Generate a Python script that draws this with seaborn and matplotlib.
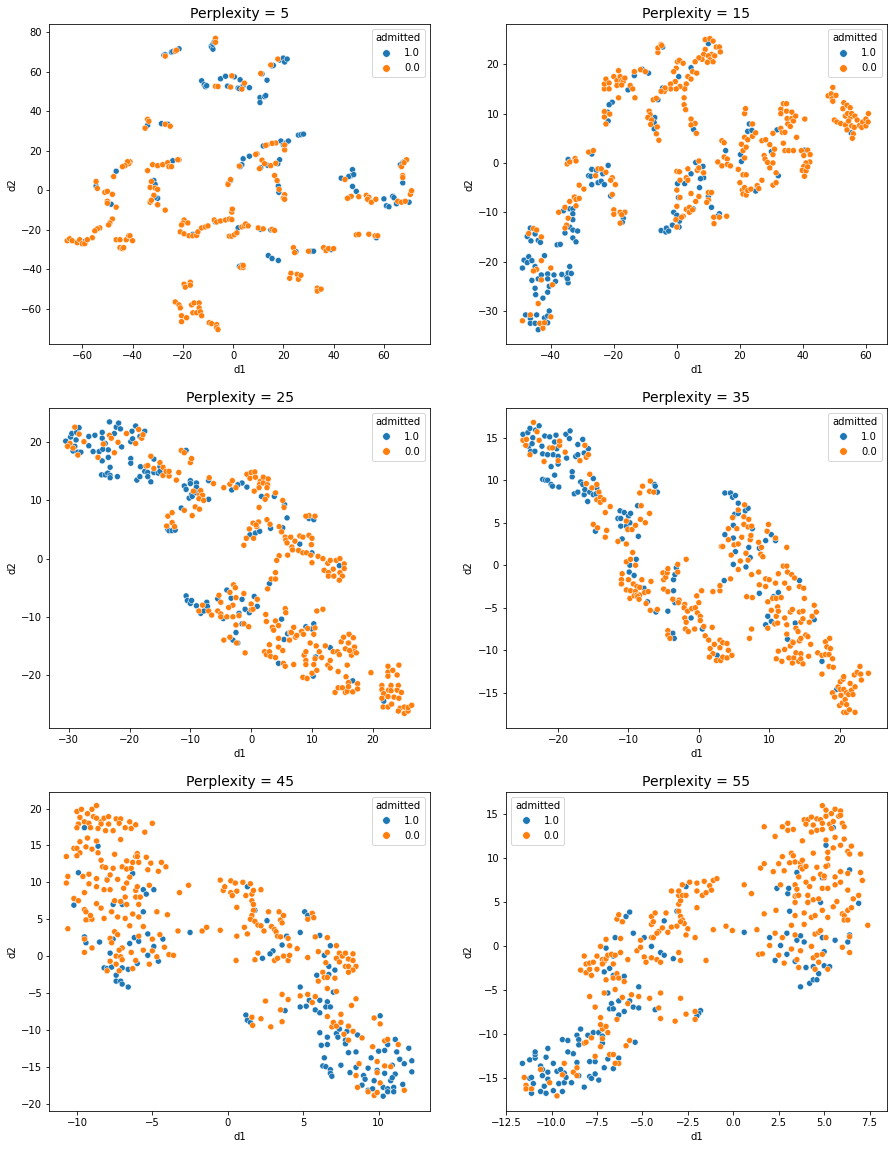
import numpy as np
import pandas as pd
import matplotlib
matplotlib.use("Agg")
import matplotlib.pyplot as plt
import seaborn as sns

PERPLEXITIES = [5, 15, 25, 35, 45, 55]
HUE_LEVELS = [1.0, 0.0]
COLORS = ["#1f77b4", "#ff7f0e"]

P5_ADMITTED = [(-27.5,68.5),(-27,68.7),(-24.5,70),(-24,70.3),(-21.5,71.7),(-8.7,73),(-8.5,72.5),(-8,71.5),(-8,74),(-7.5,75),
(-12.5,55.5),(-11.5,53.5),(-11,52.5),(-10.5,53),(-5,56.5),(-3,57.8),(-2.2,52.8),(0.5,57.5),(2,51.8),(2.8,56),(2.5,51.5),(4,53),(6.5,52),
(15.5,63),(16,63.3),(18.5,66),(20,67),(20.5,65),(21.5,66.5),(11.5,59),(13.5,55.8),(10.7,47),(10.7,44.5),(12.5,47.5),(13,48),
(-28.5,33.8),(-26,33.5),(-34,33),(19,25),(20,23),(21,24),(22,25),(26,28),(27,28.2),(28,28.5),(12,22.5),(6.5,17.3),(4,16),(3.5,13),(2.8,12),(13.7,12.7),(11,11.5),(17.8,13.5),(18.5,15.5),
(-1,5),(18,2.2),(18.2,-1),(-46.5,9.7),(-54.5,2.2),(-31.5,5),(-31,3),(-30,-4),(-31,-3.5),(-30,-7.2),(-24,15),(-49.5,-6.5),(-48.5,-7),(-59,-26),
(43,6.2),(47,7.5),(46,7),(47.5,10.5),(48,8),(47.5,2),(49,-0.5),(46,-3.7),(60,-4.3),(61,-7.8),(62,-8.3),(63.5,-3),(64,-3.7),(65,-6.8),(70,-6),(66.5,13),(67.5,14),(68,14.5),(67.5,3.8),
(2,-19),(-16,-22.3),(11,-19.7),(15,-20),(-7,-16),(25,-31),(31,-30.8),(32,-30.8),(39,-30),(14,-33),(15.5,-34.5),(18,-35.5),(2.5,-38.5),(3.5,-38),(57,-24)]
P5_REJECTED = [(-27,68),(-23,70.5),(-22.5,71),(-7,77),(-7,75),(-7,52.7),(-6,52.6),(-0.5,58),(-1,52.3),(3.5,51.3),(4.5,54.3),(17.8,66.5),(15,63.5),(11,59.2),
(-35,31.5),(-34,36),(-33.5,35),(-27,33.5),(-25,32.5),(20.5,20.5),(20.5,23),(17,24),(15.5,23.8),(13.5,23),(13,22.8),(9.5,18.5),(9,18.2),(2.5,12.3),(11.5,15.3),(12.5,13.5),(15,12.5),(17,13.7),(10.5,11),
(16.5,7.5),(17.5,5),(18.3,0.5),(20.5,-2.2),(20,-4),(20.5,-4.5),(-2,3.5),(-2,3),(-1,5.5),(-34,10),(-32,13),(-32.5,4.5),(-33,1.5),(-31,1.2),(-30,0.5),(-31.5,-2.5),(-33,-6),(-32.5,-5),(-30,-7.3),(-27,-10),
(-30,12.5),(-28,13),(-26,14),(-25.5,12),(-24.5,12),(-21.5,15.5),(-22,15.5),(-41,14.5),(-41.5,13.5),(-42,14.5),(-43,12.5),(-44,12),(-47.5,7),(-54.5,4.5),(-54,1),(-51,-1),(-50,-0.5),(-48,-2),(-50,-5.5),(-50,-6.5),(-46.5,-8.5),
(-48,-14.5),(-49,-16.5),(-49.5,-17.5),(-53,-19),(-54,-19.5),(-55,-20.5),(-56,-24),(-66,-25.5),(-65,-24.5),(-64,-25.5),(-62,-26.5),(-61,-25),(-60,-27),(-59,-27),(-58,-25),
(-46.5,-25),(-45,-25),(-42.5,-25),(-41.5,-23),(-41,-23),(-40,-25.5),(-45,-29),(-44,-29.5),(-43.5,-29),(-19.5,-15),(-20,-16.5),(-20.5,-17.5),(-18,-16.5),(-21,-21),(-19.5,-22),(-17.5,-23),(-16,-23),(-14.5,-22.8),(-14,-21),(-12.5,-19),(-11,-18.5),(-10,-18),
(-7.5,-15),(-6.5,-16),(-5,-15.5),(-3,-15),(-1.5,-14.5),(-0.5,-14.8),(-0.5,-11),(-0.3,-9.5),(-1.5,-23.2),(-0.5,-23.2),(0.5,-22.5),(1.5,-21.5),(3.5,-18.5),(4.5,-18),(5,-17),(6,-18),(10,-19),(12,-19.5),(15.5,-19.7),(16.5,-20.3),
(24,-29),(24.5,-31.5),(30,-30.8),(36,-29),(37,-30.5),(38,-29.5),(40,-29.5),(3,-39),(4,-39),(4,-38),(49,-22.5),(50,-22.3),(54,-22.2),(56.5,-23),(57.5,-23),(23,-42),(22.5,-44.5),(25.5,-42.5),(26,-45),(27,-43),(33.5,-49.5),(33.5,-51),(35,-50),
(-19.5,-47.5),(-19,-49),(-17,-46.5),(-17,-48),(-23,-56.5),(-21.5,-58),(-21,-59.5),(-16.5,-58),(-15.5,-57),(-13.5,-57),(-13.5,-59.5),(-16,-62),(-14.5,-62),(-13,-61.5),(-12.5,-63.5),(-20.5,-63.5),(-20.5,-66.5),(-18.5,-64.5),(-9.5,-67),(-8.5,-67.5),(-6.5,-68),(-6.5,-69.5),(-6,-70.5),
(44.5,5.5),(47,-3),(45.5,-4),(50,-3.2),(53,-2.5),(54,-3.5),(53.5,-4.5),(55,-6),(56.8,-4.5),(65.5,-5.5),(67,-6),(68.5,-5.5),(70.5,-2),(71,-0.2),(67.5,7.5),(67.5,6.5),(67,12),(69,15.5),(68,14)]

P15_ADMITTED = [(-4.5,23.5),(4.5,19.3),(0.6,17.5),(10,24.2),(-11,19),(-9,18.2),(-13.5,17.7),(-15.5,14.8),(-4.5,15.2),(-6,12.8),(-20.5,12.3),(-21.5,11.8),(-22,10.3),(-21.8,8.5),(-7,9.2),(-7.2,8.2),(-7.2,6.9),(5.3,6.8),
(23,7.9),(22.5,6.4),(23.8,6.6),(31.8,6.7),(30,2.3),(40.5,2.6),(55.3,6.1),(15.5,2.5),(20.2,1.7),(20.5,0.3),(32.2,-2.6),(25,-5.7),(-34.5,0.7),(-27,1.8),(-27,-1.3),(-25.5,-1.5),(-28,-2.6),(-27.3,-2.7),(-27,-4.4),(-25,-4.0),(-24,-3.7),(-23,-4.4),(-21.8,-0.5),(-23.5,-2.2),(-21,-6.7),
(6,0.1),(4.5,-2.2),(8.3,-0.7),(8.5,-3),(7.5,-3.2),(7.2,-5),(0.2,-4.2),(2.5,-4.2),(0.5,-7),(10,-6.8),(11,-9),(5.2,-9.3),(-1,-10),(0,-10.6),(0.8,-11.8),(0.7,-13),(-1.4,-12.6),(-5,-13.7),(-3.5,-14),(-3.3,-13.2),(-2.6,-13.8),(13.5,-10.3),(13,-10.8),(-16.5,-10),(-17,-11.2),(-17.3,-12),
(-36,-9.7),(-34,-9.3),(-33,-9.3),(-33,-10.3),(-33,-11.5),(-34,-13),(-33,-13.6),(-35.5,-14.2),(-31.5,-13.8),(-33,-15.2),(-32,-16),(-38,-16.6),(-37,-16.5),(-46.5,-13.2),(-45,-14.4),(-47.5,-14.9),(-46.3,-15.8),(-44,-15.7),(-43.3,-16.1),
(-48.5,-19.7),(-47,-19),(-47.5,-20.2),(-46,-19.8),(-49,-21.3),(-45,-21),(-46,-23.8),(-45,-25.4),(-44.8,-26.7),(-44,-23.5),(-43,-22.7),(-41,-22.5),(-41,-23.5),(-40.5,-25),(-39,-22.7),(-38.5,-24),(-41,-26.2),(-42.5,-27.4),(-42,-18.8),
(-34,-21),(-36.5,-22.6),(-35,-23.2),(-34.5,-22.3),(-33.5,-22.4),(-34.5,-24.3),(-34.7,-23.5),(-48,-30.8),(-46.5,-31.5),(-46.5,-32.5),(-45,-32.5),(-44.5,-30.8),(-42,-31.4),(-41,-31),(-41,-32.4),(-40.5,-30),(-44,-33.8)]
P15_REJECTED = [(-6,22.4),(-6,23.3),(-5,24),(-4.8,23.8),(9,25),(10.5,25.2),(11.5,24.7),(9,23),(12.5,23.5),(13.5,23.5),(13.8,22.5),(11,22),(8.5,22),(10,21.7),(12,21.7),(10.5,20.9),(9.7,20.4),(11.5,20.5),(8,21),(7,21.3),(5.8,20.5),
(0.2,20.5),(0.8,20.8),(2,20.2),(-0.2,19.2),(-1,18.5),(3.5,17.5),(5,18.5),(4.5,17),(3,16),(6.3,18.2),(2.5,15),(1,15.5),(-0.5,16.5),(-2,16),(-2,15),(-3.5,15),(-4,14.5),(-3.8,15.2),(-5,14.5),(-0.2,15),(-7.5,12.8),(-6.5,13.1),(2.3,13.2),(2.3,11.8),(2.8,10.8),(4.5,8.9),(5.8,8),(4.5,7.7),(6.2,6),
(-8.8,10.5),(-8.5,9.8),(-9.2,9.2),(-8,8.7),(-8.3,7.8),(-6.2,7.3),(-6.5,5.9),(-5.7,4.6),(-23,15),(-23,16),(-22.5,17),(-21.5,16.2),(-21.5,15),(-20,17.5),(-19,16.7),(-18.5,18.7),(-18,17.5),(-17.5,16.7),(-17,16.5),(-19,15.7),(-17.5,15.8),(-16.5,17.2),(-14.8,15.7),(-14,15),(-13.5,18.5),(-13.3,13.2),(-18.5,13.2),(-11.5,18.9),(-10,18.5),
(-23,10.4),(-23,9.3),(-21.3,9.9),(-22.5,7.9),(-34.8,-0.2),(-34,0.2),(-32.3,0.9),(-32,0.4),(-28,2.2),(-26.5,2.5),(-25,-1.2),(-24,-1.2),(-22.5,-1.9),(-25.8,-2.6),(-20.5,-3),(-21,-3.5),(-19.5,-4.4),(-31,-4.5),(-29.5,-5.3),(-20.5,-6.4),
(-32.5,-6.9),(-32,-7.4),(-31,-7.2),(-34,-7.8),(-32,-8.7),(-35.5,-9),(-37.5,-10),(-35,-12.6),(-34.5,-11.2),(-35.5,-13.2),(-20,-9.5),(-20,-10.4),(-18,-10),(-16.5,-10),(-17.5,-10.5),(-18,-12.2),(-45.5,-13.3),(-44.5,-13.6),(-47,-14.3),(-43,-15),
(-43,-19.8),(-40,-21.3),(-44.5,-21.6),(-45.5,-21.9),(-43,-23.7),(-39.5,-24.7),(-44,-28.5),(-49,-32),(-46.5,-30.8),(-43.5,-32.5),(-42,-32.4),(-42.5,-33.5),(-40,-31.2),
(0,-1.7),(0.8,-1.8),(3.5,-1.2),(6.5,-1.5),(1,-3.5),(3,-3),(3.5,-3.5),(0,-5.5),(4.5,-6.2),(1,-7),(7,-6.8),(6,-7.8),(10,-6),(11,-6),(10,-7.5),(9.5,-8),(0,-8.8),(3,-9.4),(4,-9),(4,-10),(2,-10.8),(1.5,-11),(-0.3,-11.5),(0,-13),(5,-9.5),(7,0.4),(7,-1),(8.5,-2),
(11.7,-11),(11.8,-12.3),(13.5,-11),(15.8,-10.8),(13,0.2),(14.3,-0.6),(14.3,4.5),(15,4.1),(15,1.2),(16,0.8),(16,-0.3),(17,-0.6),(19.5,-1.3),(20,-4),(21,-2.4),(22,-2.4),(20.5,3.8),(21,2.5),(21.5,1),(22,3.2),(21.5,5.2),(22.5,4.7),(24,5.4),(25,6.1),(21.5,10),(21.8,11),(24,7.9),
(20.8,-5.5),(21,-6.3),(21.5,-5),(22,-6.5),(22.5,-5.6),(23.5,-5.3),(25.5,-4.6),(26,-5.2),(27,-3.5),(30.5,-4.5),(31.5,-4),(27,4.5),(28.2,4.7),(29.5,3.7),(27.7,1.5),(28,0.8),(28.8,0.1),(29.5,-1),(30.5,1.7),(30.5,0),(31,2.8),(31.5,-2),(30.5,6),(33,7),(33.5,6.2),(34.3,6.2),
(33,10.9),(33,10),(33.8,12),(34.8,12),(34.8,10.5),(35,9),(35.2,7.9),(36,7.4),(36.5,10.3),(36.5,9),(37,8.5),(37.7,9.5),(38,5.2),(40.6,8.9),(33.8,4),(34.3,2.5),(35.5,2.5),(37,2.5),(39.5,2.5),(40.3,1.5),(41.5,2.6),(42.3,1.7),(42.2,0.2),(41,0),(40.3,-0.7),(39.8,-1.5),(41,-1.6),(40.5,-2.7),(41.5,-0.8),
(48,13.6),(49,14),(49.3,13),(49.5,12.5),(49.5,15.3),(50.5,13.7),(52.7,11),(53,12.2),(54,11.7),(55,11.2),(53.5,9.5),(54.2,10),(55.2,9.3),(55.5,10),(56.5,9.5),(50,8.7),(50.8,8.3),(52,8),(53.5,7.7),(54.5,8.5),(54,6.7),(55.5,7.5),(56.3,7.2),(56,5.9),(55.7,5),(57.2,8.7),(58,7.6),(58.7,7.2),(59,8.3),(60,8.9),(60,7.5),(60.7,8.3),(60.8,10)]

P25_ADMITTED = [(-30.5,20.2),(-29.7,20.9),(-29.5,21.5),(-28.7,21.7),(-28.3,22.5),(-28.8,20.4),(-29,19.3),(-29.3,18.5),(-28.5,18.3),(-28,18.3),(-26.7,21),(-26.7,19.4),(-25.7,21.2),(-26,18.4),(-25,18.4),(-24.5,21.7),(-24.5,20.7),(-24,19.8),(-24.4,18.8),(-23.5,18.7),(-24.5,16.8),(-23.5,17.4),(-23.2,15.7),
(-24.6,14.4),(-24,14.4),(-23.6,14.7),(-23.2,14.3),(-23.2,13.9),(-22,14.1),(-23.3,23.5),(-22.5,21.5),(-22.2,22.6),(-21.8,23.3),(-21.5,22.3),(-21.3,19.2),(-19.8,17.2),(-19.8,16.4),(-19.8,20.1),(-19.6,21.9),(-19.5,20.6),(-19,22.8),(-18.3,21),(-17.5,21.9),
(-18.2,15.8),(-18.8,13.5),(-18.3,14.1),(-17.5,15),(-17,14.8),(-17,14.1),(-16.5,13.2),(-16,14.8),(-16,17.1),(-15,15.8),(-15.3,14.7),(-15,15),(-11.5,8.7),(-10.7,18.6),(-11,12.5),(-10.7,11.9),(-10,13.4),(-10,12.9),(-10.2,10.4),(-9.8,11),(-9.7,10.7),(-9,13),(-9,12.3),(-9,11.3),(-7,13.4),(-7,10.2),
(-13.7,5),(-13.5,4.8),(-13,4.8),(-12.5,4.9),(-1.5,13),(-2.2,12.7),(-3.2,11.8),(-0.7,12.3),(1.7,10.7),(3.8,10.7),(5.5,9.3),(5.9,7),(3.2,5.2),(5.2,5.3),(-0.2,4.1),(0.7,4.4),(1.4,4.7),(8,2.5),(9.5,6.9),(10.3,6.7),(10,1),(14.5,-1.2),(3,-4.3),
(-10.7,-6.4),(-10.5,-7.2),(-10,-7.7),(-9.8,-7.2),(-9,-8.1),(-8.3,-9.4),(-7.8,-9),(-7.3,-7.5),(-7.2,-8.2),(-4.6,-10.3),(-5.5,-6.9),(-4,-5.4),(-3.3,-6.8),(-1.5,-7),(0.5,-6.5),(1,-8.2),(-1,-8.7),(-0.3,-9.3),(-2,-9.4),(-2.5,-12.7),(-3,-14),(-2.2,-14.5),(-1.5,-11.2),
(5,-10.4),(4.5,-18),(5.4,-13.9),(6,-12.9),(9,-11.7),(10,-12.1),(10.3,-11.2),(10.6,-16.9),(10.2,-20.2),(13,-15.3),(16.7,-21),(21.8,-24.5)]
P25_REJECTED = [(-29.8,19.8),(-30.2,19.3),(-29.3,19),(-29,22.6),(-28.5,17.8),(-28.3,21.4),(-27.5,20.1),(-25.2,17.4),(-24.3,19.7),(-23.3,21.2),(-23,20.7),(-22.5,18.2),(-21.9,20),(-20.5,21.5),(-18.5,22.2),(-18,20.7),(-17.8,21.3),(-19,19.8),
(-17.3,15.9),(-17,16),(-16.5,17.6),(-16,15.5),(-15,16.5),(-14.5,15.7),(-14.5,14.3),(-14,15),(-13.5,14.2),(-13.5,15),(-12.3,13.5),(-11.9,14.8),(-11.5,18.6),(-11,18.2),(-10,16.5),(-9.8,17.2),(-9.5,11.6),(-8.5,11),(-8.3,11.7),(-8,10.9),(-8.6,10.3),(-7.8,10),(-9.2,8.9),(-8.5,8.5),(-9.7,7.4),(-11,8.3),
(-13.9,5.6),(-13.7,7.3),(-13,7.9),(-13,6.2),(-12.6,5.5),(-6.9,13.9),(-6.2,12.9),(-4.5,12.2),(-3.5,12.8),(-3.1,13.4),(-2.5,12.2),(-0.7,14.5),(0,14.8),(0.6,14.9),(-0.2,13.8),(0.7,14),(1.5,13.3),(1.4,12.8),(2,14),(1.3,12.2),(2,13),(2.7,12.7),(2.8,13.7),(2.6,12.2),(0.5,11.6),(2.6,10.8),(2.3,10.2),(4,11.3),(5.2,10),(5.4,8.8),(1.3,8.8),
(2.6,6.7),(3.1,5.9),(4.6,5.5),(1.2,6.3),(0.3,6.1),(0.9,5.5),(0.8,5.8),(-0.3,5.1),(-0.8,3.5),(0.4,3.5),(-1.2,2.3),(5,4.6),(5.6,3.7),(5.7,3.2),(6.5,3.7),(5.9,2.7),(7.2,3),(6.7,2),(6.8,1.5),(7.8,1.4),(8,3.9),(8.5,1),(8.5,3.7),(9.1,1),(9.5,7.4),(9.5,4),(10,3.5),(10.5,7.3),(9,7.3),(9.9,2.4),(9.8,0.6),(10,-0.7),
(6,0.6),(4.6,0.5),(4.2,-0.3),(4,-2.4),(3.3,-3.5),(4,-3.5),(2.7,-5.2),(11,0.4),(11.8,0),(12,-2),(12.6,-0.8),(12.7,-2.4),(13,-0.3),(13.5,-1.8),(14,-0.3),(14.6,0),(15.3,-0.9),(15.3,-1.7),(14.6,-2.4),(15,-3),(14.5,-3.7),(12.7,-3),(13.6,-3),
(-2.9,-4.5),(-2.6,-5),(-3.5,-5.8),(-2.5,-6.7),(-1.2,-6),(-3,-8),(-3.7,-8.4),(-5.3,-6.3),(-5,-7.5),(-8,-8),(-8.6,-9),(-7,-9),(-6.5,-9.7),(-5.5,-9),(-5,-9.5),(-5,-10),(-4,-10),(-3,-10),(-2,-9.8),(0,-7.8),(0,-8.8),(0.3,-8.7),(1,-7),
(-4.5,-14),(-3.5,-13.5),(-2.4,-14.5),(-2.5,-11.4),(-1.2,-11.2),(-0.4,-11.7),(-1,-16.2),(2.4,-9.6),(2.5,-10.8),(3.5,-11.8),(4,-10.7),(4.5,-11.5),(3.7,-12.3),(4.5,-13.7),(5.6,-8.6),(5.7,-9.3),(6.4,-12.7),(6.6,-12.7),(6.3,-14),(7,-11.8),(7.3,-13.5),(7.5,-13.2),(8.3,-12.5),(8.6,-13),(9.3,-12),(10.5,-11.9),(10.3,-13),(10.8,-9),(11.8,-8.7),
(3,-14.8),(2.2,-16),(2.5,-16.5),(3,-16),(3.2,-16.8),(4,-17),(4.5,-15.2),(5.2,-15.8),(5.3,-18),(5.6,-18.5),(7,-18.2),(8.5,-20.4),(8.7,-16.6),(9,-16),(9,-17.5),(9,-18.2),(9.2,-20.6),(9.7,-14.5),(10,-19.7),(10.3,-18.2),(10.7,-15),(10.5,-17.2),(10.8,-19.2),(11.2,-16),(11.6,-17),
(12.2,-15),(12.6,-18.3),(13,-18.8),(13,-17.5),(13.5,-16),(14.2,-16),(14.5,-16.5),(14.3,-19.4),(14.8,-14.3),(15.2,-13.5),(15.5,-15.5),(16,-14.5),(16.1,-13),(15.8,-18.3),(16.5,-16.6),(16.8,-13.6),(17,-15.2),(17,-16),(17.3,-16.2),(16.2,-15.8),
(13.8,-23),(14.3,-22.2),(15,-22.2),(15.5,-23),(15.8,-22.8),(15.6,-20.3),(16,-21.3),(16,-22),(16.7,-22.9),(17.5,-21.5),(17.5,-22.4),(19.7,-19.6),(21.5,-21.8),(21.5,-22.5),(21.8,-23.2),(21.5,-24),(21.7,-25.5),(22.5,-25.5),(22.5,-18.5),(22.5,-19.5),(22.5,-20.2),(22.6,-22.6),(22.5,-23.7),(23,-21.8),(23,-22.7),(23.1,-25),(23.3,-19.2),(23.5,-23.8),(24,-20),(24.2,-21.8),(24.3,-18.3),(24,-22.6),(24.3,-24),(24.5,-25.7),(24.2,-26.2),(24.7,-23),(25.2,-25.5),(25.2,-26.6),(25.8,-26.2),(25.8,-25.6),(26.4,-25.2)]

P35_ADMITTED = [(-25,15.4),(-24.2,14),(-24.3,15.6),(-24,16.1),(-23.9,13.4),(-23.3,13.4),(-23.7,14.3),(-23.6,15),(-23.2,15.9),(-22.7,16.4),(-22.3,14),(-22.2,13.1),(-21.9,15.2),(-21.5,13),(-21.2,15.1),(-21,11.6),(-20.7,13),(-20.3,15.3),(-20.5,14.5),(-20.2,13.7),(-20,11.9),(-20,12.8),(-19.8,14.5),(-18.8,12.6),(-18.9,15.4),(-18.3,15.8),(-18.4,14.9),(-17.5,12.8),(-17.2,13),(-17.2,14.2),(-16.5,14.8),(-16.3,13.2),(-15.7,13.7),
(-22.2,10.1),(-21.8,10),(-21.5,10),(-21,9.5),(-20.8,9.3),(-20.5,10.6),(-19.9,9.2),(-18,10.4),(-18,11),(-17.7,8.4),(-17.2,8.6),(-16.8,9.8),(-16.5,9.5),(-16.3,8.3),(-16.2,8.9),(-15.8,7.5),(-15.5,8.6),(-15,8.3),(-14.6,8.4),(-14.5,9.1),(-15,10.2),
(-11.5,5.5),(-11.2,6.4),(-11.1,5.5),(-11.1,4.6),(-10.9,3.1),(-10.6,6.2),(-10.3,4.6),(-10,5.8),(-9.7,6.1),(-9.8,5),(-8.6,3.4),(-8.7,7),(-14.7,4),(-6.3,9.5),(-6.2,9.3),(-5.9,8.6),(-9.8,0),(-9.9,-0.8),(-8.9,0.7),(-9.2,-1.2),(-7.8,-2.7),(-7.3,-4.3),(-6.1,-5.5),(-4.4,-5.4),
(-3.6,-3),(-3.6,-1.7),(-3.4,-1.1),(-3.4,-4.4),(-3.2,-0.3),(-1.1,-6.2),(0.5,-7.5),(-3.7,-8),(-3.5,-8.6),(3.7,8.5),(4.5,8.5),(4.8,8),(5.2,8.2),(5.6,7.3),(5.1,6),(5.6,6.1),(6.6,6.4),(7,6.7),(4.9,4.7),(3.7,3.6),(4.9,3.2),(5.2,1.6),(4.9,0.1),(6.7,-0.2),(6.7,1.4),(7.1,2.1),(7.3,0.9),(7.6,4.3),(8.6,2),
(9.5,2.9),(10.3,3.6),(10.9,2.9),(3.6,-1.8),(8.6,-3.3),(10.6,-3.7),(11.3,-3.2),(9.8,-6),(9.5,-7),(10.3,-6.6),(14.3,-1.8),(13.7,-6.8),(12.6,-8.7),(16.4,-6.4),(17.5,-11.3),(19.6,-14.6),(2.6,-10.6)]
P35_REJECTED = [(-25,14.7),(-24.6,14.1),(-24.5,14.8),(-24,13),(-23.5,16.8),(-23,15.7),(-22.7,14.7),(-22,12.2),(-21.2,13.8),(-20.8,13.8),(-20,12.3),(-19.8,14.1),(-19.8,14.6),(-19,13.3),(-16.9,12.3),(-16.2,14.1),(-16,12.7),(-15.7,13),
(-16,9.6),(-15.5,10.7),(-15.2,9.1),(-14.5,9.5),(-14.2,8.6),(-14.5,7.7),(-14,8),(-14,7.4),(-13.5,7.7),(-12.6,6.9),(-13.3,6.2),(-15,4.8),(-14.4,4.4),(-13.3,3.3),(-13.1,4.1),(-11.5,2.8),(-10.3,2.5),(-10.3,5.2),(-10.1,4.2),(-9.5,4.2),(-9,4.7),(-8.3,5.4),(-8.2,7),(-7.6,5),(-7,6.1),(-8.4,8.5),(-8,9.3),(-7,8.7),(-6.9,9.9),(-6.4,8.6),
(-10.3,0.4),(-9.7,0.7),(-9.4,1.5),(-9,0),(-11,-1.7),(-10.9,-1),(-11,-2.2),(-10.3,-2.9),(-10,-1.7),(-9.7,-3),(-9.3,-2.2),(-8.8,-2.5),(-9,-3.1),(-9.8,-3.9),(-9.2,-3.6),(-8.8,-3.5),(-8.4,-2.6),(-8.4,-3.5),(-8.7,-3.7),(-8.5,-4),(-8.1,-1.7),(-7.7,-3.2),(-7.2,-3.1),(-6.8,-1.9),(-7.5,-4.5),
(-5.1,-0.9),(-5,-1.7),(-4.7,-1.4),(-5,-2.8),(-4.5,-0.9),(-4.4,-0.4),(-4.4,-3.1),(-3.7,-4),(-3,-0.8),(-3,0.1),(-2.8,-4.1),(-2.9,-4.4),(-1.8,0.7),(-2,-4.6),(-6.9,-5.3),(-5.9,-5.2),(-2.1,-5),(-2,-6.2),(-1.8,-6.7),(-1.6,-5.4),(-1,-5.1),(-0.5,-5),(-0.2,-5.6),(0.2,-6),(0.2,-6.5),(0,-4.4),(0.4,-3),(-0.3,-3.6),(-1.9,-7.5),(-1.5,-7.8),(-0.6,-7.5),
(0.7,-7.2),(0.9,-8.3),(1.4,-8.8),(1.9,-7.3),(1.6,-9.8),(2,-10.4),(2.2,-9.3),(1.5,-10.8),(2.5,-11.2),(3.1,-11.2),(3,-9.7),(3,-8.8),(3.4,-9.1),(3.4,-10.8),(4,-9.2),(4,-10.9),(4.2,-10),(4.7,-10.6),(-4.4,-7.7),(-4.4,-8.2),(-4.1,-8.6),(2,-3.1),(3,-3),(3,-2.4),(4.5,-1.6),
(5.6,-0.5),(5.9,0.5),(7,0.6),(6.7,1.4),(4.6,1.2),(3.2,2.2),(3.4,2.2),(4.2,3),(5,2.4),(5.6,2.5),(6.1,3.3),(7.3,3),(7.4,3.5),(4.2,4.3),(5.4,4.3),(4.8,5.6),(5.6,6.5),(6.5,7.1),(6.4,5.7),(6.4,4.8),(7,4.5),(7.1,5.4),(7.5,4.6),(8.5,2.7),(8.9,2.1),(8.8,1.3),(9.1,1),(9.9,4.8),(9.7,4),(10.9,3.2),(12.5,2.1),
(7.5,-1.1),(6.8,-3.7),(7.6,-3.8),(8.5,-0.8),(8.6,-2.3),(9.5,-1.6),(9.5,-2.5),(10,-1.7),(9.8,-4.3),(10.3,-5.3),(10.5,-3.9),(10.9,-2.1),(11.3,-1),(11,-3.9),(11.2,-4.9),(11,-6),(11.7,-3.8),(12,-0.1),(12.5,-0.1),(12.6,-0.8),(12.2,-2.1),(12.8,-2.7),(13.2,-1.1),(13.6,-1.5),(14.3,-2.5),(14.9,-2.7),(15,-3.9),
(10.8,-6.9),(11.2,-6.8),(11.3,-5.4),(12.2,-6.2),(12.5,-7),(13,-5.5),(13.3,-5.2),(14.3,-5.5),(14.5,-6.7),(14.8,-5.4),(14.8,-6.3),(13.8,-7.4),(14.1,-7.8),(15.7,-6.7),(16.1,-6),(16.4,-4.7),(16.7,-5.5),(9.8,-7.4),(7.2,-8.6),(7.5,-7.5),(12.5,-8.1),(13,-9.5),(13.3,-9),(14.3,-8.9),(14.5,-8.6),(15.2,-8.2),(15.5,-8.4),(15.9,-9.3),
(11.3,-10.1),(11,-11),(11.8,-11.3),(12.2,-9.9),(12.8,-10.9),(13.4,-9.1),(13.5,-10.9),(13.8,-10.3),(13.3,-11.5),(14.2,-11.3),(14.5,-10.4),(14.5,-11),(14.8,-11.6),(15.6,-10.7),(16.9,-10.3),(17.5,-10.6),(17.5,-12.8),(18,-9),(18.2,-9.6),(18,-10.5),(18.5,-10.5),(18.6,-8.6),(18.7,-9.8),(18.5,-11.9),(19,-11),(19.1,-12),
(19,-15),(19.3,-15.5),(19.8,-14.3),(20.1,-14.6),(20.1,-13.7),(20.5,-13.4),(20.6,-13.1),(20.2,-15.3),(20,-16.5),(20.4,-16.2),(20.6,-14.6),(20.8,-15.8),(21,-15),(21.3,-15.2),(21,-16.4),(20.6,-17.3),(21,-17.3),(21.4,-17),(21.5,-13.9),(21.7,-14.7),(21.9,-15.2),(22.2,-14.3),(22.1,-12.9),(22.2,-17.3),(22.5,-12.6),(22.9,-11.9),(23,-12.8),(23.1,-13.5),(24.1,-12.7)]

P45_ADMITTED = [(-9.5,17.4),(-8.6,14.9),(-9.9,11.3),(-8,10.4),(-6.3,11.2),(-10.2,6.9),(-7.6,7),(-7,7),(-5.6,9),(-5.4,8.4),(-4.9,9),(-5.6,6),(-9.5,2.6),(-9.4,1.8),(-8.5,1.9),(-7.6,2.3),(-6.2,2.5),(-6.5,1.7),(-5.9,2),(-5.3,3),(-4.9,1.3),(-4.3,2.3),(-5.3,0.1),(-7.8,0.4),(-6,-1),(-4.6,-0.7),
(-8.2,-1.6),(-8,-1.7),(-7.7,-1.5),(-7,-1.6),(-6.6,-1.8),(-7.4,-2.6),(-7.4,-3.4),(-7.1,-3.4),(-7,-3.8),(-6.6,-4.2),(-2.5,3.2),(1.3,9.4),(1.8,6.2),(5.1,6),(5.3,5.5),(2.6,4.8),(4.8,3.2),(3.9,2.7),(3.6,1.5),(3,0.7),(2.8,0.3),(2.3,-0.3),
(6.1,2.8),(6.8,1.4),(6.4,0.1),(6.7,-1.4),(7.1,-1.9),(5.9,-2.6),(6.7,-2.5),(4.8,-4.2),(5.4,-6),(6.1,-6),(6.6,-6.2),(7,-4.9),(4.8,-6.9),(5.2,-6.8),(5.8,-7.3),(6.1,-7.7),(6.5,-6.9),(6.8,-6.9),(3.8,-7.4),(1.2,-8),(1.3,-8.7),(1.5,-9),
(6.1,-10.4),(6.6,-11),(6.6,-12),(6.2,-12.1),(7.2,-10.5),(7.3,-11),(7.4,-9.9),(7.9,-10.2),(7.8,-11.4),(7.8,-11.9),(8.6,-10.7),(8,-13.1),(8.5,-13),(6.4,-13.8),(6.3,-14.9),(6.5,-15),(6.8,-15.4),(6.8,-15.9),(6.9,-16.3),(7.5,-14.8),(8.1,-15.8),(8.5,-15.1),
(9.5,-13.8),(10,-12.9),(10.4,-12.8),(10.6,-12),(11.1,-11.3),(11.2,-13),(12,-12.5),(11.4,-14),(11.7,-14.6),(12.2,-14.2),(12.2,-15.7),(10.9,-14.8),(9.3,-15.2),(9.9,-15.5),(10.4,-15.9),(11.1,-16),(9,-16.2),(9.1,-16.7),(9.7,-16.9),(10.8,-16.9),(10.9,-16.5),(11.6,-17.4),(8.9,-17.5),(9.3,-18.2),(9.6,-18),(10.3,-17.8),(10.6,-18),(11,-17.8),(10.6,-18.4),(11,-18.4),(10.3,-19),(10.1,-8.1)]
P45_REJECTED = [(-10,19.6),(-9.8,18.8),(-9.9,17.9),(-10,17.4),(-9.7,19.9),(-9.5,18.2),(-9.3,19.3),(-9.2,18),(-9.1,17.4),(-9,19.9),(-8.9,18.9),(-8.7,20.4),(-8.7,18.7),(-8.4,18.2),(-8.4,17.9),(-8.6,17.3),(-8.2,18.7),(-8.1,17),(-7.9,18.9),(-7.9,17.9),(-7.6,17),(-7.4,18.6),(-7.1,18.6),(-7.2,18),(-6.8,17.4),(-6.5,18.2),(-6.4,17.3),(-6.1,17.8),(-5.5,16.8),(-5,18),
(-9.8,15.5),(-10.2,14.6),(-10,14.6),(-9.8,14),(-10,13.6),(-9.4,14.8),(-9,14.5),(-9.3,16),(-8.7,15.6),(-8.6,14),(-8.4,13),(-8.3,12.1),(-8.1,12),(-7.5,13.8),(-7.1,15.8),(-10.7,13.5),(-10.6,10.8),(-10.7,9.9),(-9.6,10.8),(-9.2,11.1),(-8.7,10.5),(-8,10.3),(-7.6,11.9),(-7.8,11),(-7,12.1),(-6.7,12.9),(-6.7,11.8),(-6.4,11.9),(-6.3,12.7),(-6.1,13.5),(-6,13.9),(-6,13.5),(-5.9,12.7),(-5.4,13.4),(-5.3,11.7),(-5.1,12.6),(-4.6,11.5),(-4.4,12.7),(-4.1,12.1),
(-9.5,8.6),(-9.2,9.8),(-8.7,9.4),(-8.2,9),(-7.8,9),(-7.3,10.4),(-6.9,9.2),(-6.7,9.9),(-6.5,10.7),(-6.1,8.9),(-6,9.4),(-6.1,8),(-5.8,8),(-5.2,9.6),(-3.2,8.6),(-2.6,9.6),(-10.2,7.8),(-9.9,7.5),(-9.5,6.3),(-9.4,6),(-9.2,5),(-9.4,4.9),(-9,5),(-9.1,5.5),(-8.7,7.1),(-8.4,6.5),(-8.2,5.1),(-7.7,6),(-7.5,7.5),(-7.3,5.3),(-7.1,7.4),(-6.8,5.1),(-6.8,8),(-6.7,7),(-6.5,4.1),(-6.3,5.7),(-5.9,7),(-5.9,5.3),(-5.6,4),(-4.7,6),(-4,5.6),
(-10.6,3.7),(-9.5,2.3),(-9.5,0.5),(-9,1.1),(-7.5,3.3),(-7.3,2.9),(-7.8,2.4),(-7.7,1.8),(-7.4,0),(-7,1.1),(-7.2,0.8),(-7.1,-0.1),(-7,-0.5),(-6.4,0.5),(-5.9,2.7),(-5.6,0.8),(-5,0.7),(-5,2.3),(-4.5,2.9),(-4.7,-0.1),(-4.2,1.2),(-3.9,0.2),(-3.6,0.1),(-3.3,3.4),(-7.8,-0.7),(-7.4,-1.1),(-7.2,-2),(-8,-2),(-6.3,-1.7),(-6.1,-0.6),(-5.2,-1.1),(-1.7,3.4),(-1.4,3.9),(-0.5,3.5),
(-0.5,10.3),(-0.3,8.9),(-0.2,9.4),(0.2,10.2),(0.2,8.6),(0.3,8.2),(0.5,9.9),(0.6,8.8),(1,10),(1.2,8.2),(1.5,9.8),(1.6,8.4),(1.7,8.9),(2.2,9),(1.6,7.5),(1.7,7),(0.6,6.6),(1.7,6.2),(1.6,5.5),(1.5,5),(1.8,4.7),(2,4.2),(2.2,4.1),(2.7,6),(3.4,6),(3.5,4.9),(3.6,4.5),(3.7,5.5),(2.9,4),(3.1,3.6),(3.2,3.3),(2.4,3.4),(3.3,2.7),(3.5,2.6),(1.1,3.9),(1.3,3),(0.6,2.7),(4,2.4),(4.6,1),
(2,0.4),(1.8,-0.5),(0.55,-0.6),(3.1,-0.6),(3.3,-0.3),(3.7,0),(4,-0.6),(4.1,0.1),(4.1,1.4),(5.3,-0.2),(5.3,5),(5.6,5.8),(5.7,5.2),(5.8,2.6),(6,0.6),(6.6,0.5),(6.6,2.5),(7.2,1.4),(7.4,0.4),(7.2,-0.3),(7.4,-0.8),(7.6,0),(7.8,0.4),(8,-0.4),(8.3,0.3),(8.3,-0.6),(7.8,-1.4),(8,-1.4),(8.5,-1.4),(8.3,-1.9),(8,-2.2),(6.5,-0.9),
(6.3,-2.2),(6.4,-2.9),(6.6,-2.9),(6,-3.4),(7.1,-3),(6.6,-4.4),(5.3,-5.2),(4.8,-5.4),(5.8,-5.5),(5.6,-6.3),(7.2,-4.8),(8.5,-5.8),(8.2,-6.7),(2.5,-6.1),(3.6,-5.2),(4,-5.9),(3.5,-7.3),(2.2,-8.5),(1.6,-8.3),(1.65,-9.4),(2.85,-9.6),(3.6,-8.9),
(6.6,-8.2),(6.9,-9.6),(7,-9),(7.2,-9.5),(7.5,-9),(7.5,-7.9),(7.7,-10.6),(8,-11.4),(8,-9.5),(8.3,-10.2),(8.9,-11.1),(9.7,-8.4),(10.1,-9.2),(9.6,-12.3),(10.4,-11.5),(10.6,-11.3),(11.3,-12),(9.9,-14.3),(10.4,-14.9),(10.8,-15),(8.7,-14.6),(8.5,-16.2),(9.9,-15.8),(8.6,-17.8),(10.1,-17.2),(9.3,-18.4),(9.7,-18.9),(9.9,-18.5),(11.7,-18.2)]

P55_ADMITTED = [(-11.6,-13.3),(-11.2,-12.9),(-10.9,-12.7),(-10.9,-12.3),(-10.9,-12),(-10.2,-11.6),(-10.3,-12.6),(-10.6,-13.6),(-10.5,-14),(-10.5,-14.7),(-10.2,-14.3),(-10.2,-15.1),(-11.2,-15),(-11.1,-14.9),(-11,-15.6),(-11.1,-16.7),(-10.6,-16.5),(-10.4,-15.9),(-10.3,-16.7),(-9.9,-16.4),(-9.9,-13.3),(-9.7,-14.2),(-9.6,-15.6),(-9.3,-15.5),(-9.4,-16.5),(-9.3,-14.4),(-9.2,-14.9),(-9.5,-14),(-8.9,-15.5),(-8.5,-14.7),(-8.6,-13.2),(-8.8,-12.2),(-9.1,-12),(-9.4,-10.6),(-9.1,-10.7),(-8.6,-10.1),(-8.5,-10.6),(-8.5,-11.2),(-8.4,-9.4),(-8,-10.1),(-7.7,-9.8),(-7.4,-9.8),(-7.2,-10.2),(-7.2,-11),(-7.9,-14.8),(-7.8,-15),(-7.6,-14.5),(-7.9,-13.1),(-7.6,-13.1),(-7.4,-15.2),(-8.2,-16),(-7.1,-13.8),(-6.9,-12.8),(-6.6,-13.9),(-6.3,-12.7),(-5.4,-10.9),
(-6.9,-5.3),(-6.8,-7.1),(-6.7,-6.5),(-6.6,-7.1),(-6.3,-6.2),(-6.3,-7.8),(-6,-7.4),(-5.7,-6.2),(-5.5,-6.9),(-5.2,-7),(-5.2,-4.6),(-4.3,-7.2),(-1.8,-7.3),(-1.9,-7.6),(-2,-7.9),(-2.6,6.8),(-7,-0.2),(-7.1,-2.9),(-6.8,-2.5),(-6.6,-3.3),(-6.6,-1.1),(-6.5,1),(-6,-3.4),(-5.5,1.5),(-5.9,3.4),(-5.7,3.9),(-4.9,1),(-4.5,0),(-4,-0.7),(-3.8,-1),(-3.3,-1.4),(-3.8,2.9),(-3.1,4),(0.6,1.6),
(2.4,6.6),(3,6),(3.05,6.6),(3.5,8.4),(3.1,4),(4.1,5),(4.8,5),(4.9,7.8),(6.4,8.7),(6.9,4.9),(5.5,13.5),(5.1,11.5),(2,1),(2.6,0.1),(2.3,-1.6),(2.95,1.5),(2.95,-0.9),(3.5,0.7),(3.7,1.2),(3.9,0.5),(3.4,-1.7),(4,-2.4),(4.4,-2.3),(4.9,1),(5,-0.6),(5,-2.2),(5.3,-2.3),(5.6,0.7),(6.3,0.5),(6.4,1.3),(4.7,-3.1),(3.7,-4.6),(4.2,-4.2),(4.4,-3.8),(4.6,-3.8)]
P55_REJECTED = [(-11.5,-14.9),(-11.4,-15.8),(-11.4,-16.2),(-11.1,-16.2),(-10.6,-14),(-10.1,-15.5),(-9.7,-17),(-9.4,-14.6),(-9.3,-13.3),(-8.8,-14.3),(-8.6,-14.7),(-8.6,-13.8),(-8.2,-11),(-8.1,-10.9),(-7.8,-10.4),(-7.6,-12.5),(-7.3,-11.4),(-7.2,-10.5),(-7.2,-9.4),(-7.3,-8.9),(-7,-9.1),(-6.9,-9.8),(-7.3,-8.1),(-6.8,-12.3),(-6.6,-12.3),(-6.3,-13.3),(-6.5,-13.3),(-5.9,-11.3),(-5.7,-10.7),
(-7.9,-5.7),(-7.6,-6.9),(-7.1,-5.3),(-6.5,-4.9),(-6.4,-8.3),(-6.1,-5.8),(-5.8,-6.5),(-5.6,-5.5),(-5.2,-5.7),(-4.6,-5.9),(-4,-5.3),(-4.1,-7),(-4,-8.2),(-2.9,-5.9),(-3.2,-8.5),(-2.6,-7.7),(-2.1,-7.4),(-2.1,-8.3),
(-8.2,-1.1),(-8.1,-2),(-8.4,-2.7),(-8.1,-3),(-7.9,-2.6),(-7.9,-1.9),(-7.8,-3.3),(-7.7,-1.8),(-7.5,-1.1),(-7.5,-2.6),(-7.2,-1.5),(-7.1,-1.7),(-7,-1.4),(-7.2,-2),(-6.9,-1),(-6.7,-0.9),(-6.5,-1),(-6.6,-2),(-7.3,0),(-7,0.8),(-7,-3.8),(-6.6,-3.6),(-6.4,-3.1),(-6.3,-3.6),(-6.2,-0.7),(-6,-4),(-5.8,-1.5),(-6.2,0.9),
(-5.3,-0.5),(-5.1,0.7),(-5.1,-0.1),(-4.9,-1.2),(-4.8,-1.8),(-4.5,-1.3),(-4.5,1),(-4.4,1),(-4.2,-1.5),(-4,-1.8),(-3,-0.7),(-2.9,-1.6),(-1.5,-1.6),(-6.4,3.1),(-6.3,3.6),(-6.1,2.8),(-4.5,3.4),(-4.3,3.8),(-4.5,2.5),(-4.4,2.8),(-4.1,1.7),(-4.2,1.5),(-3.9,2.1),(-3.7,3.8),(-3.6,1.6),(-3.4,2.2),(-3.1,2.3),(-3,4),(-2.9,3.4),(-2.8,3),(-2.7,2.6),(-2.9,2.8),(-2.6,1.3),(-2.5,2),(-2,4.4),(-2.1,1),(-1.1,1.9),
(-3,4.8),(-2.9,5.2),(-3,5.8),(-2.8,5.8),(-3,6.3),(-3.4,6.3),(-2.8,7),(-2.4,7.3),(-2.6,5.8),(-2,7.2),(-1.6,7.4),(-1.3,6.9),(-1.2,6.4),(-1.1,7.5),(-2,6.3),(-1.7,5.8),(-0.9,7.7),(-1.5,6.1),(-0.4,2.3),(-0.05,1.8),(1.3,1.9),(0.6,7),(1,6),
(1.4,-0.9),(1.6,-0.85),(2,0.1),(2.5,-1),(2.8,-1.9),(3.2,-0.3),(3.7,-0.5),(3.6,-2.4),(3.5,-1.5),(4.3,0),(4.4,-1.3),(4.5,-2.6),(4.6,-1),(4.7,-1.8),(4.9,-0.9),(5.2,-2.6),(5.1,1),(4.5,1.4),(4.7,1.6),(4.8,1.8),(3.4,1.3),(2.3,1.5),(2.7,1),(6,-0.1),(6.4,-0.7),(6.4,1.1),
(1.7,3.7),(2.35,4.1),(3.2,2.4),(3.4,3.5),(3.9,3.8),(3.9,2.5),(4.3,3.3),(4.5,3.5),(4.9,4.1),(5.2,3.3),(5.5,4.5),(5.7,5.1),(6,3.7),(6.1,3.5),(6.1,3),(6.3,3),(6.3,4.1),(6.5,4.4),(6.6,5.4),(6.9,5.8),(7.4,2.4),
(3.4,5.7),(3.5,5.8),(3.4,5),(3.4,7),(3.5,6.5),(3.6,5.8),(2.6,7),(4,7.3),(4.1,5.8),(4.2,6.8),(4.1,5),(4.4,7.7),(4.4,5.3),(4.7,5.4),(4.9,6.6),(5.2,6.6),(5.6,7),(5.6,7.9),(5.9,7.3),(6.3,8.3),(5.9,8.5),(7,8.4),(7.1,7.5),(6.3,6.4),
(1.5,8.9),(1.7,9.4),(2.2,8.5),(2.5,9.4),(2.7,10.2),(2.8,8.6),(3.1,9.5),(3.2,10.6),(3.3,10.3),(3.4,9.6),(3.7,9.5),(3.7,9),(3.8,9.8),(3.8,8.8),(4,9.1),(3.6,7.9),(4.6,9),(4.4,10.6),(4.8,8.2),(5,7.8),(5,8),(5.2,9.2),(5.1,9.1),(5.2,10.7),(5.2,10),(5.9,8.5),
(1.7,13.6),(2.3,12.5),(2.7,13.6),(3,14),(3,13.2),(3.3,13.3),(3.8,12),(3.9,14.4),(4.1,14.4),(4,13.9),(4.3,14.7),(4.4,13.8),(4.3,13),(4.6,13.2),(4.6,14.5),(4.8,14.4),(4.9,16),(4.9,13.3),(4.9,14),(5.1,15.5),(5.1,14.8),(5.1,12.1),(5.3,13.9),(5.4,15.1),(5.4,13.4),(5.5,14.2),(5.6,15.6),(5.6,12.4),(5.8,14.8),(5.9,15.4),(5.9,14.9),(6,14),(6.1,13.6),(5.5,11.2),(5.9,11.5),(6.1,12.2),(6.3,10.8),(6.4,10.5),(6.5,11.4),(7,10.5)]

ADMITTED = [P5_ADMITTED, P15_ADMITTED, P25_ADMITTED, P35_ADMITTED, P45_ADMITTED, P55_ADMITTED]
REJECTED = [P5_REJECTED, P15_REJECTED, P25_REJECTED, P35_REJECTED, P45_REJECTED, P55_REJECTED]
XLIMS = [(-73.1, 78.3), (-54.2, 66.6), (-33.2, 29.4), (-27.4, 26.7), (-11.83, 13.4), (-12.5, 8.44)]
YLIMS = [(-77.8, 84.1), (-36.7, 28.1), (-29.05, 25.9), (-19.1, 18.5), (-21.05, 22.3), (-18.75, 17.6)]
LEGEND_LOCS = ["upper right"] * 5 + ["upper left"]

fig, axes = plt.subplots(3, 2, figsize=(893 / 72, 1149 / 72), dpi=72)
fig.subplots_adjust(left=49.3 / 893, right=886.7 / 893, top=1 - 24.3 / 1149,
                    bottom=1 - 1111.3 / 1149, wspace=0.2, hspace=0.2)

for i, ax in enumerate(axes.flat):
    yes = pd.DataFrame(ADMITTED[i], columns=["d1", "d2"]).assign(admitted=1.0)
    no = pd.DataFrame(REJECTED[i], columns=["d1", "d2"]).assign(admitted=0.0)
    df = pd.concat([yes, no], ignore_index=True)
    sns.scatterplot(data=df, x="d1", y="d2", hue="admitted", hue_order=HUE_LEVELS,
                    palette=COLORS, ax=ax)
    ax.set_xlim(*XLIMS[i])
    ax.set_ylim(*YLIMS[i])
    ax.set_title(f"Perplexity = {PERPLEXITIES[i]}", fontsize=14)
    sns.move_legend(ax, LEGEND_LOCS[i], title="admitted")
    for handle in ax.get_legend().legend_handles:
        if hasattr(handle, "set_markersize"):
            handle.set_markersize(7.5)
            handle.set_markeredgecolor("white")
            handle.set_markeredgewidth(0.5)
        else:
            handle.set_sizes([56])

fig.savefig("out.png", dpi=72)
